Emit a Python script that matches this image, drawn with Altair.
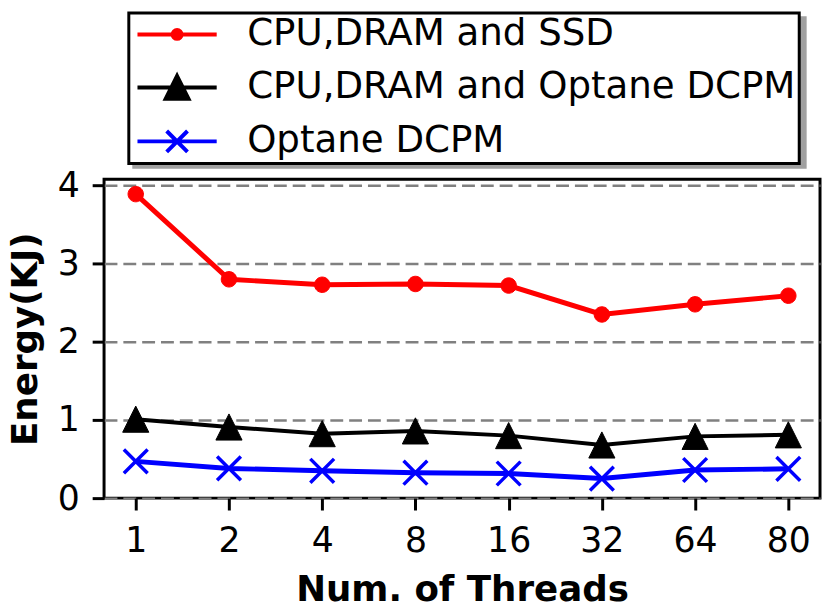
import altair as alt
import pandas as pd

threads = ["1", "2", "4", "8", "16", "32", "64", "80"]
ssd = [3.89, 2.80, 2.73, 2.74, 2.72, 2.35, 2.48, 2.59]
optane_sys = [1.01, 0.91, 0.825, 0.86, 0.80, 0.68, 0.79, 0.81]
optane = [0.47, 0.38, 0.35, 0.325, 0.315, 0.25, 0.36, 0.375]

names = ["CPU,DRAM and SSD", "CPU,DRAM and Optane DCPM", "Optane DCPM"]
colors = ["#ff0000", "#000000", "#0000ff"]
shadow_keys = ["s0", "s1", "s2"]

rows = []
for name, key, vals in zip(names, shadow_keys, [ssd, optane_sys, optane]):
    for t, v in zip(threads, vals):
        rows.append({"threads": t, "energy": v, "series": name, "shadow": key})
df = pd.DataFrame(rows)

def circle(r):
    k = 0.5523 * r
    return (f"M{-r},0 C{-r},{-k} {-k},{-r} 0,{-r} C{k},{-r} {r},{-k} {r},0 "
            f"C{r},{k} {k},{r} 0,{r} C{-k},{r} {-r},{k} {-r},0 Z")

def tri(h):
    return f"M0,{-h} L{h},{h} L{-h},{h} Z"

def cross(h):
    return f"M{-h},{-h} L{h},{h} M{-h},{h} L{h},{-h}"

data_shapes = [circle(0.78), tri(1.32), cross(1.2)]
data_sw = [1, 1, 3.5]
line_sw = [5, 4, 5]
legend_shapes = ["M-4,0 L4,0 " + circle(0.45), "M-4,0 L4,0 " + tri(1.15), "M-4,0 L4,0 " + cross(1.05)]

x_enc = alt.X("threads:O", sort=threads,
              scale=alt.Scale(type="point", padding=0.34),
              axis=alt.Axis(title="Num. of Threads", labelAngle=0, grid=False,
                            labelPadding=14, titlePadding=14))
y_enc = alt.Y("energy:Q", scale=alt.Scale(domain=[0, 4.08], nice=False),
              axis=alt.Axis(title="Energy(KJ)", values=[0, 1, 2, 3, 4], format="d",
                            grid=True, labelPadding=13, titlePadding=13))

LX, LY = 25, -168
common = dict(title=None, orient="none", symbolSize=400, symbolStrokeWidth=4,
              symbolOffset=27, rowPadding=14.5, padding=3,
              labelFontSize=37.5, labelFont="DejaVu Sans", labelLimit=0)

base = alt.Chart(df)
layers = []

# shadow of the legend box: blank labels, widened through the label offset
shadow_legend = alt.Legend(legendX=LX + 5, legendY=LY + 5, symbolOpacity=0,
                           labelOpacity=0, labelExpr="'\u00a0'", labelOffset=607,
                           strokeColor="#a0a0a0", fillColor="#a0a0a0", **common)
layers.append(base.mark_point(filled=True, opacity=0, size=400).encode(
    x=x_enc, y=y_enc,
    color=alt.Color("shadow:N", sort=shadow_keys,
                    scale=alt.Scale(domain=shadow_keys, range=colors), legend=shadow_legend),
))

for name, col, shp, msw, lsw in zip(names, colors, data_shapes, data_sw, line_sw):
    sub = base.transform_filter(alt.datum.series == name)
    layers.append(sub.mark_line(color=col, strokeWidth=lsw).encode(x=x_enc, y=y_enc))
    layers.append(sub.mark_point(shape=shp, filled=True, color=col, stroke=col,
                                 strokeWidth=msw, size=400, opacity=1)
                  .encode(x=x_enc, y=y_enc))

leg_scale = alt.Scale(domain=names, range=colors)
legend = alt.Legend(legendX=LX, legendY=LY, symbolOpacity=1, labelColor="black",
                    labelOffset=52, strokeColor="black", fillColor="white", **common)
layers.append(base.mark_point(filled=True, opacity=0, size=400).encode(
    x=x_enc, y=y_enc,
    fill=alt.Fill("series:N", scale=leg_scale, sort=names, legend=legend),
    stroke=alt.Stroke("series:N", scale=leg_scale, sort=names, legend=legend),
    shape=alt.Shape("series:N", sort=names,
                    scale=alt.Scale(domain=names, range=legend_shapes), legend=legend),
))

chart = alt.layer(*layers).properties(
    width=723, height=322,
    autosize=alt.AutoSizeParams(type="none"),
    padding={"left": 97, "top": 170, "right": 2, "bottom": 107},
).configure_view(
    stroke="black", strokeWidth=3
).configure_axis(
    labelFont="DejaVu Sans", labelFontSize=35, labelColor="black",
    titleFont="DejaVu Sans", titleFontSize=36, titleFontWeight="bold", titleColor="black",
    domain=False, tickColor="black", tickWidth=3, tickSize=12,
    gridColor="#808080", gridDash=[13, 6], gridWidth=2.5, gridOpacity=1,
).configure_legend(
    strokeWidth=3
)

chart.save("out.html", embed_options={"renderer": "svg", "actions": False})
